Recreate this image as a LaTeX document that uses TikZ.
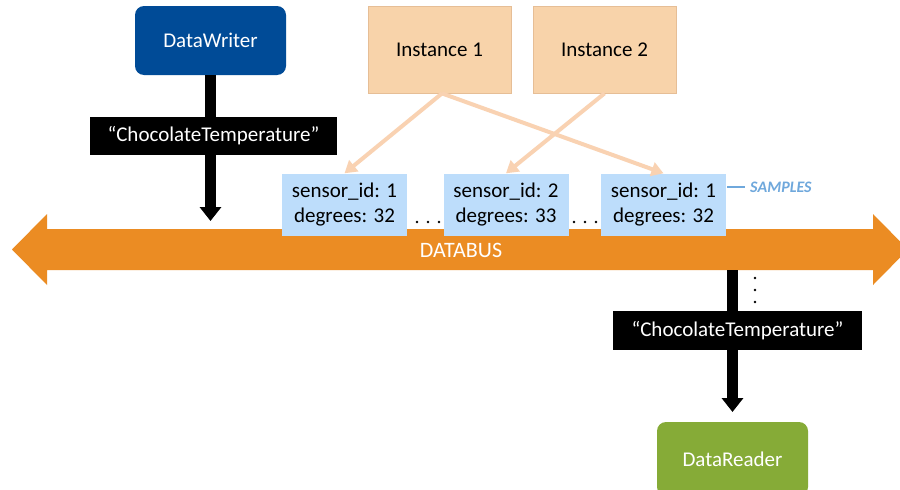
\documentclass[tikz,border=0pt]{standalone}
\usepackage{fontspec}
\setmainfont{Carlito}
\usetikzlibrary{arrows.meta,calc}
\definecolor{dwblue}{HTML}{004B97}
\definecolor{drgreen}{HTML}{86AB37}
\definecolor{instfill}{HTML}{F8D3AA}
\definecolor{instline}{HTML}{E6BE96}
\definecolor{sampfill}{HTML}{BDDDFB}
\definecolor{busorange}{HTML}{EB8C23}
\definecolor{peach}{HTML}{F9D2B2}
\definecolor{samplab}{HTML}{6FA8DC}
\tikzset{
  x=1pt, y=-1pt,
  txt/.style={font=\fontsize{21}{25}\selectfont},
  rolebox/.style={txt, rounded corners=9pt, text=white, minimum width=151pt, inner sep=0pt},
  labbox/.style={txt, fill=black, text=white, minimum height=38pt, inner sep=0pt},
  instbox/.style={txt, fill=instfill, draw=instline, line width=0.8pt, minimum width=143pt, minimum height=87pt, inner sep=0pt},
  sampbox/.style={txt, fill=sampfill, minimum width=125pt, minimum height=62pt, inner sep=0pt, align=center},
  blk/.style={line width=11pt, draw=black},
  blktip/.style={blk, -{Triangle[width=21pt,length=14pt]}},
  peacharrow/.style={draw=peach, line width=4pt, -{Triangle[width=14pt,length=12pt]}},
  dotmark/.style={fill=black, circle, inner sep=0pt, minimum size=2.6pt},
}
\begin{document}
\begin{tikzpicture}
\useasboundingbox (0,0) rectangle (900,490);
\clip (0,0) rectangle (900,490);
\fill[white] (0,0) rectangle (900,490);

% databus
\fill[busorange] (12,249.5) -- (47,214) -- (47,229) -- (873,229) -- (873,214) -- (908,249.5)
  -- (873,285) -- (873,270) -- (47,270) -- (47,285) -- cycle;
\node[font=\fontsize{22}{26}\selectfont, text=white] (bus) at (461,250) {DATABUS};
\coordinate (busB) at (732.5,270);

% writer side
\node[rolebox, fill=dwblue, minimum height=69pt] (dw) at (210.5,40.5) {DataWriter};
\node[labbox, minimum width=247pt] (lab1) at (213.5,136) {“ChocolateTemperature”};
\coordinate (wtip) at (210.5,221);
\draw[blk] (dw.south -| wtip) -- (lab1.north -| wtip);
\draw[blktip] (lab1.south -| wtip) -- (wtip);

% instances
\node[instbox] (i1) at (439.5,49.5) {Instance 1};
\node[instbox] (i2) at (604.5,49.5) {Instance 2};

% samples
\node[sampbox] (s1) at (344.5,204.5) {sensor\_id: 1\\degrees: 32};
\node[sampbox] (s2) at (506,204.5) {sensor\_id: 2\\degrees: 33};
\node[sampbox] (s3) at (663.5,204.5) {sensor\_id: 1\\degrees: 32};

\coordinate (i1s) at ($(i1.south)+(2.5,0)$);
\draw[peacharrow] (i1s) -- (s1.north);
\draw[peacharrow] (i2.south) -- (s2.north);
\draw[peacharrow] (i1s) -- (s3.north);

% dots between samples
\foreach \x in {417,428,439} \node[dotmark] at (\x,222) {};
\foreach \x in {574,585,596} \node[dotmark] at (\x,222) {};

% samples label
\coordinate (sl) at (727,187);
\node[font=\fontsize{16}{18}\selectfont\bfseries\itshape, text=samplab, anchor=west, inner sep=0pt] (samp) at (750,187) {SAMPLES};
\draw[samplab, line width=2pt] (sl) -- (samp.west -| 745,0);

% reader side
\node[labbox, minimum width=249pt, minimum height=39pt] (lab2) at (737.5,330.5) {“ChocolateTemperature”};
\coordinate (rtip) at (732.5,412);
\draw[blk] (busB) -- (lab2.north -| rtip);
\draw[blktip] (lab2.south -| rtip) -- (rtip);
\foreach \y in {278,290,302} \node[dotmark] at (755,\y) {};
\node[rolebox, fill=drgreen, minimum height=74pt] (dr) at (732.5,459) {DataReader};
\end{tikzpicture}
\end{document}
